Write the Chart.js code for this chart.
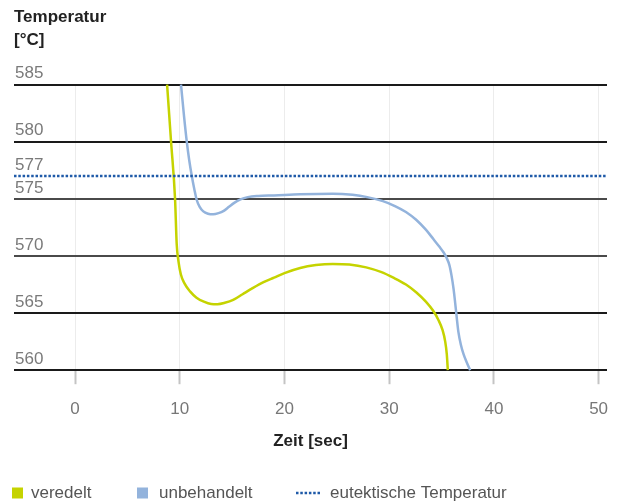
<!DOCTYPE html>
<html lang="de">
<head>
<meta charset="utf-8">
<title>Abkühlkurven</title>
<script src="https://cdn.jsdelivr.net/npm/chart.js@4.4.1/dist/chart.umd.min.js"></script>
<style>
  html, body { margin: 0; padding: 0; background: #ffffff; }
  #wrap { width: 618px; height: 502px; }
</style>
</head>
<body>
<div id="wrap"><canvas id="chart" width="618" height="502"></canvas></div>
<script>
// Zeit [sec] und Temperatur [°C] der veredelten Schmelze
const veredeltZeit = [8.79, 9.17, 9.55, 9.71, 9.88, 10.1, 10.45, 10.98, 11.6, 12.3, 13.0, 13.6, 14.3, 15.1, 16.0, 17.0, 18.0, 19.0, 20.0, 21.5, 23.0, 24.6, 26.2, 27.8, 29.2, 30.4, 31.6, 32.6, 33.5, 34.2, 34.7, 35.1, 35.35, 35.5, 35.6];
const veredeltTemp = [585, 580, 575, 571.0, 569.5, 568.4, 567.6, 566.9, 566.35, 566.0, 565.8, 565.78, 565.9, 566.15, 566.65, 567.2, 567.7, 568.1, 568.5, 568.95, 569.2, 569.3, 569.25, 569.0, 568.6, 568.1, 567.5, 566.8, 566.0, 565.2, 564.4, 563.5, 562.5, 561.4, 560.0];

// Zeit [sec] und Temperatur [°C] der unbehandelten Schmelze
const unbehandeltZeit = [10.12, 10.4, 10.67, 10.9, 11.15, 11.4, 11.62, 11.9, 12.25, 12.7, 13.2, 13.7, 14.2, 14.7, 15.2, 15.8, 16.5, 17.5, 19.0, 21.5, 24.6, 26.5, 27.9, 29.4, 30.6, 31.6, 32.6, 33.5, 34.2, 34.8, 35.2, 35.5, 35.75, 35.95, 36.15, 36.3, 36.45, 36.6, 36.85, 37.1, 37.4, 37.73];
const unbehandeltTemp = [585, 582.3, 580, 578.4, 577, 575.8, 574.9, 574.3, 573.9, 573.7, 573.65, 573.75, 573.95, 574.3, 574.65, 574.95, 575.15, 575.25, 575.3, 575.4, 575.45, 575.35, 575.15, 574.8, 574.35, 573.85, 573.15, 572.3, 571.5, 570.8, 570.3, 569.8, 569.2, 568.3, 567.1, 565.9, 564.6, 563.4, 562.2, 561.4, 560.7, 560.0];

// Eutektische Temperatur und Achsenbereiche
const eutektischeTemp = 577;
const zeitBereich = [-5.83, 50.8];
const zeitTicks = [0, 10, 20, 30, 40, 50];
const tempBereich = [560, 585];
const tempTicks = [560, 565, 570, 575, 577, 580, 585];

const FONT = '"Liberation Sans", Arial, Helvetica, sans-serif';

const toPoints = (xs, ys) => xs.map((x, i) => ({ x: x, y: ys[i] }));

// Horizontale Linien: 577 wird als gepunktete Linie gezeichnet
const gridColor = (v) => {
  if (v === eutektischeTemp) return 'rgba(0,0,0,0)';
  if (v === 575 || v === 570) return '#4a4a4a';
  return '#1a1a1a';
};

// Legende unter dem Diagramm
const legendRow = {
  id: 'legendRow',
  afterDraw(chart) {
    const ctx = chart.ctx;
    const ds = chart.data.datasets;
    const y = 493;
    ctx.save();
    ctx.font = '17px ' + FONT;
    ctx.textBaseline = 'middle';
    ctx.textAlign = 'left';
    ctx.fillStyle = ds[0].borderColor;
    ctx.fillRect(12, y - 5.5, 11, 11);
    ctx.fillStyle = '#555555';
    ctx.fillText(ds[0].label, 31, y);
    ctx.fillStyle = ds[1].borderColor;
    ctx.fillRect(137, y - 5.5, 11, 11);
    ctx.fillStyle = '#555555';
    ctx.fillText(ds[1].label, 159, y);
    ctx.strokeStyle = ds[2].borderColor;
    ctx.lineWidth = ds[2].borderWidth;
    ctx.setLineDash(ds[2].borderDash);
    ctx.beginPath();
    ctx.moveTo(296, y);
    ctx.lineTo(320, y);
    ctx.stroke();
    ctx.setLineDash([]);
    ctx.fillStyle = '#555555';
    ctx.fillText(ds[2].label, 330, y);
    ctx.restore();
  }
};

new Chart(document.getElementById('chart'), {
  type: 'line',
  data: {
    datasets: [
      {
        label: 'veredelt',
        data: toPoints(veredeltZeit, veredeltTemp),
        borderColor: '#c5d300',
        borderWidth: 2.5,
        pointRadius: 0,
        cubicInterpolationMode: 'monotone',
        fill: false,
        order: 2
      },
      {
        label: 'unbehandelt',
        data: toPoints(unbehandeltZeit, unbehandeltTemp),
        borderColor: '#93b3dc',
        borderWidth: 2.5,
        pointRadius: 0,
        cubicInterpolationMode: 'monotone',
        fill: false,
        order: 1
      },
      {
        label: 'eutektische Temperatur',
        data: toPoints(zeitBereich, [eutektischeTemp, eutektischeTemp]),
        borderColor: '#1f5aa8',
        borderWidth: 2.5,
        borderDash: [2.5, 1.8],
        pointRadius: 0,
        fill: false,
        order: 0
      }
    ]
  },
  options: {
    responsive: false,
    animation: false,
    clip: false,
    layout: { padding: { left: 14, right: 11, top: 0, bottom: 50 } },
    plugins: {
      legend: { display: false },
      tooltip: { enabled: false },
      title: {
        display: true,
        text: ['Temperatur', '[°C]'],
        align: 'start',
        color: '#222222',
        font: { family: FONT, size: 17, weight: 'bold', lineHeight: 1.4 },
        padding: { top: 5, bottom: 32 }
      }
    },
    scales: {
      x: {
        type: 'linear',
        min: zeitBereich[0],
        max: zeitBereich[1],
        afterBuildTicks: (scale) => { scale.ticks = zeitTicks.map(v => ({ value: v })); },
        afterFit: (scale) => { scale.paddingLeft = 0; scale.paddingRight = 0; },
        border: { display: false },
        grid: {
          color: '#ececec',
          lineWidth: 1,
          drawTicks: true,
          tickLength: 14,
          tickColor: '#c4c4c4',
          tickWidth: 2
        },
        ticks: {
          color: '#777777',
          font: { family: FONT, size: 17 },
          padding: 15,
          maxRotation: 0
        },
        title: {
          display: true,
          text: 'Zeit [sec]',
          color: '#222222',
          font: { family: FONT, size: 17, weight: 'bold' },
          padding: { top: -3, bottom: 0 }
        }
      },
      y: {
        type: 'linear',
        min: tempBereich[0],
        max: tempBereich[1],
        afterBuildTicks: (scale) => { scale.ticks = tempTicks.map(v => ({ value: v })); },
        afterFit: (scale) => { scale.width = 0; },
        border: { display: false },
        grid: {
          drawTicks: false,
          color: (c) => gridColor(c.tick.value),
          lineWidth: 2
        },
        ticks: {
          mirror: true,
          padding: 1,
          labelOffset: -11,
          color: '#7a7a7a',
          font: { family: FONT, size: 17 }
        }
      }
    }
  },
  plugins: [legendRow]
});
</script>
</body>
</html>
